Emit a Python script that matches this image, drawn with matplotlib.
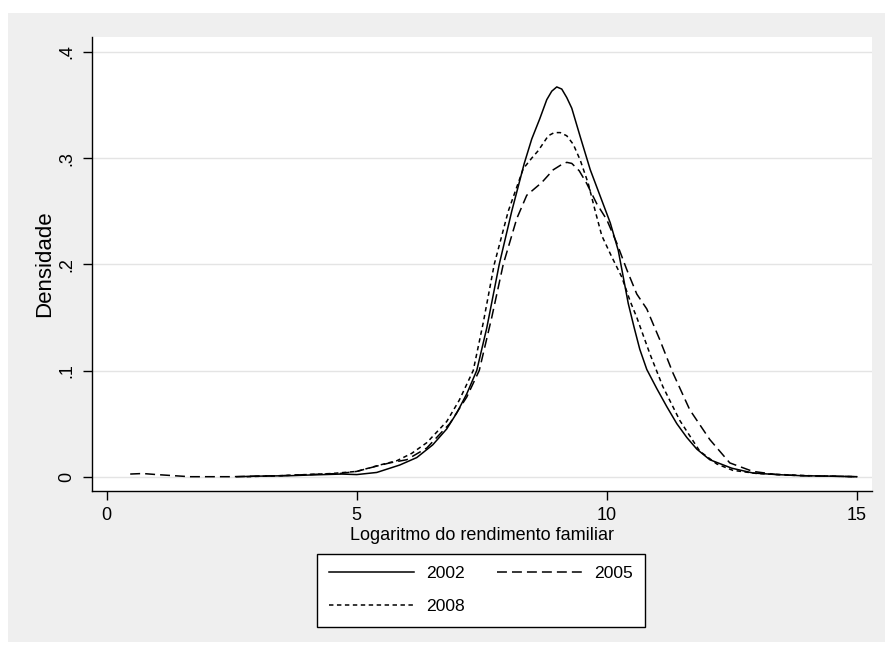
import matplotlib
matplotlib.use("Agg")
import matplotlib.pyplot as plt
from matplotlib.patches import Rectangle

plt.rcParams["font.family"] = ["Liberation Sans", "DejaVu Sans"]

# kernel density curves (log family income vs density)
x_2002 = [2.6, 3.0, 3.7, 4.0, 4.7, 5.0, 5.4, 5.86, 6.2, 6.52, 6.8, 7.0, 7.2,
          7.4, 7.6, 7.85, 8.1, 8.35, 8.5, 8.66, 8.8, 8.9, 9.0, 9.1, 9.2,
          9.3, 9.47, 9.67, 9.87, 10.07, 10.23, 10.33, 10.43, 10.55, 10.66,
          10.8, 11.0, 11.2, 11.4, 11.6, 11.8, 12.06, 12.5, 12.92, 13.4,
          13.86, 14.5, 15.0]
y_2002 = [0.0, 0.0005, 0.001, 0.0015, 0.0025, 0.002, 0.004, 0.011, 0.018,
          0.03, 0.045, 0.06, 0.078, 0.1, 0.14, 0.2, 0.25, 0.295, 0.318,
          0.337, 0.355, 0.363, 0.367, 0.365, 0.357, 0.347, 0.32, 0.289,
          0.264, 0.239, 0.213, 0.188, 0.163, 0.14, 0.12, 0.101, 0.083, 0.066,
          0.05, 0.037, 0.026, 0.016, 0.008, 0.0035, 0.002, 0.001, 0.0005, 0.0]

x_2005 = [0.47, 0.72, 1.0, 1.66, 2.5, 3.5, 4.0, 4.66, 5.0, 5.4, 5.66, 6.0,
          6.4, 6.86, 7.2, 7.45, 7.7, 7.93, 8.2, 8.4, 8.55, 8.7, 8.93, 9.1,
          9.2, 9.3, 9.45, 9.6, 9.8, 10.0, 10.2, 10.4, 10.6, 10.8, 11.06,
          11.32, 11.66, 12.06, 12.46, 12.92, 13.4, 13.86, 15.0]
y_2005 = [0.0025, 0.003, 0.002, 0.0, 0.0, 0.001, 0.002, 0.003, 0.005, 0.01,
          0.013, 0.016, 0.027, 0.05, 0.075, 0.1, 0.15, 0.2, 0.243, 0.265,
          0.271, 0.277, 0.289, 0.294, 0.296, 0.295, 0.288, 0.276, 0.257,
          0.242, 0.22, 0.195, 0.172, 0.158, 0.129, 0.098, 0.063, 0.035, 0.013,
          0.005, 0.002, 0.001, 0.0]

x_2008 = [2.8, 3.5, 4.0, 4.5, 5.0, 5.46, 5.8, 6.1, 6.4, 6.8, 7.05, 7.33,
          7.53, 7.75, 8.03, 8.33, 8.5, 8.63, 8.83, 8.95, 9.07, 9.2, 9.33,
          9.47, 9.63, 9.77, 9.9, 10.1, 10.3, 10.47, 10.6, 10.86, 11.12, 11.46,
          11.86, 12.2, 12.52, 13.0, 14.0, 15.0]
y_2008 = [0.0, 0.001, 0.002, 0.003, 0.005, 0.011, 0.015, 0.022, 0.032, 0.052,
          0.072, 0.1, 0.145, 0.2, 0.25, 0.29, 0.3, 0.307, 0.321, 0.324,
          0.324, 0.321, 0.313, 0.298, 0.276, 0.25, 0.227, 0.207, 0.188, 0.165,
          0.15, 0.116, 0.085, 0.053, 0.024, 0.012, 0.006, 0.003, 0.001, 0.0]

x_ticks = [0, 5, 10, 15]
y_ticks = [0, 0.1, 0.2, 0.3, 0.4]
y_ticklabels = ["0", ".1", ".2", ".3", ".4"]

fig = plt.figure(figsize=(8.85, 6.51), dpi=100, facecolor="white")
fig.patches.append(Rectangle((8 / 885, 1 - 641.5 / 651), 1 - 8 / 885, 629 / 651,
                             transform=fig.transFigure, facecolor="#efefef",
                             edgecolor="none", zorder=-10))

ax = fig.add_axes([92 / 885, 1 - 491 / 651, 780.3 / 885, 454.3 / 651])
ax.set_facecolor("white")

lw = 1.1
l02, = ax.plot(x_2002, y_2002, color="black", lw=lw, linestyle="-", label="2002")
l05, = ax.plot(x_2005, y_2005, color="black", lw=lw,
               linestyle=(0, (6.5, 3.3)), label="2005")
l08, = ax.plot(x_2008, y_2008, color="black", lw=lw,
               linestyle=(0, (2.9, 2.3)), label="2008")

ax.set_xlim(-0.294, 15.31)
ax.set_ylim(-0.01346, 0.4143)
ax.set_xticks(x_ticks)
ax.set_yticks(y_ticks)
ax.set_yticklabels(y_ticklabels, rotation=90, va="center")
ax.grid(axis="y", color="#e4e4e4", lw=1.0)
ax.set_axisbelow(True)

for side in ["top", "right"]:
    ax.spines[side].set_visible(False)
for side in ["left", "bottom"]:
    ax.spines[side].set_linewidth(1.0)
ax.tick_params(direction="out", length=6.2, width=1.0, labelsize=13, pad=5.5)

ax.set_xlabel("Logaritmo do rendimento familiar", fontsize=13)
ax.xaxis.set_label_coords(0.5, -0.079)
ax.xaxis.label.set_va("top")
ax.set_ylabel("Densidade", fontsize=16)
ax.yaxis.set_label_coords(-0.0474, 0.5)

leg = fig.legend([l02, l08, l05], ["2002", "2008", "2005"], ncol=2,
                 loc="upper center", bbox_to_anchor=(481 / 885, 1 - 554 / 651),
                 fontsize=12.6, frameon=True, fancybox=False, framealpha=1,
                 edgecolor="black", handlelength=4.86, handletextpad=0.69,
                 columnspacing=1.83, labelspacing=1.0, borderpad=0.7,
                 borderaxespad=0)
leg.get_frame().set_linewidth(1.0)

fig.savefig("out.png", dpi=100, facecolor="white")
